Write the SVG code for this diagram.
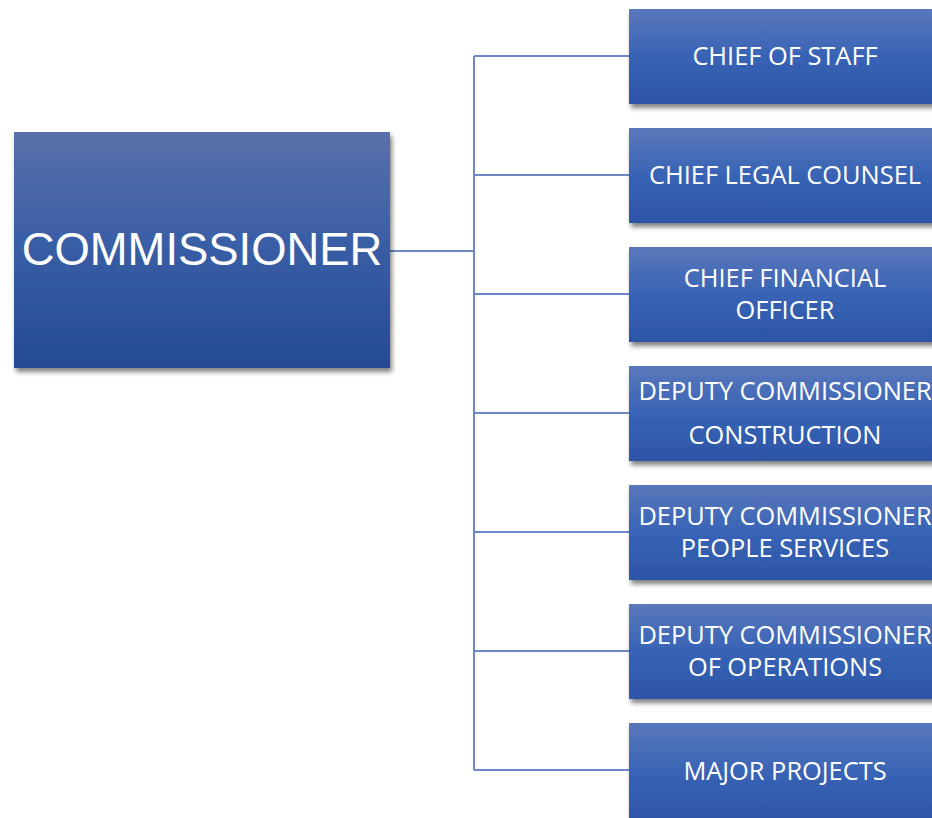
<svg xmlns="http://www.w3.org/2000/svg" width="932" height="818" viewBox="0 0 932 818">
<defs>
<linearGradient id="gMain" x1="0" y1="0" x2="0" y2="1">
<stop offset="0" stop-color="#5a70aa"/>
<stop offset="0.45" stop-color="#3a5fa6"/>
<stop offset="1" stop-color="#254b93"/>
</linearGradient>
<linearGradient id="gSub" x1="0" y1="0" x2="0" y2="1">
<stop offset="0" stop-color="#5a78bb"/>
<stop offset="0.5" stop-color="#3863b5"/>
<stop offset="1" stop-color="#2c55a6"/>
</linearGradient>
<filter id="sh" x="-10%" y="-10%" width="130%" height="130%">
<feGaussianBlur in="SourceAlpha" stdDeviation="2.5"/>
<feOffset dx="2" dy="4" result="o"/>
<feComponentTransfer><feFuncA type="linear" slope="0.5"/></feComponentTransfer>
<feMerge><feMergeNode/><feMergeNode in="SourceGraphic"/></feMerge>
</filter>
</defs>
<style>
.sub{fill:url(#gSub);filter:url(#sh)}
.t{fill:#ffffff;font-family:"Open Sans","Noto Sans",sans-serif;font-size:25.4px;text-anchor:middle}
.c{stroke:#6f87c7;stroke-width:2;fill:none}
</style>
<g id="connectors">
<path class="c" d="M390 251H474M474 56V770M474 56H629M474 175H629M474 294H629M474 413H629M474 532H629M474 651H629M474 770H629"/>
</g>
<g id="commissioner">
<rect x="14" y="132" width="376" height="236" fill="url(#gMain)" filter="url(#sh)"/>
<text x="202" y="265" fill="#fff" font-family="Liberation Sans, Arial, sans-serif" font-size="45.4" text-anchor="middle">COMMISSIONER</text>
</g>
<g id="chief-of-staff">
<rect class="sub" x="629" y="9" width="315" height="95"/>
<text class="t" x="785" y="65">CHIEF OF STAFF</text>
</g>
<g id="chief-legal-counsel">
<rect class="sub" x="629" y="128" width="315" height="95"/>
<text class="t" x="785" y="184">CHIEF LEGAL COUNSEL</text>
</g>
<g id="chief-financial-officer">
<rect class="sub" x="629" y="247" width="315" height="95"/>
<text class="t" x="785" y="287">CHIEF FINANCIAL</text>
<text class="t" x="785" y="319">OFFICER</text>
</g>
<g id="dc-construction">
<rect class="sub" x="629" y="366" width="315" height="95"/>
<text class="t" x="785" y="400">DEPUTY COMMISSIONER</text>
<text class="t" x="785" y="444">CONSTRUCTION</text>
</g>
<g id="dc-people-services">
<rect class="sub" x="629" y="485" width="315" height="95"/>
<text class="t" x="785" y="525">DEPUTY COMMISSIONER</text>
<text class="t" x="785" y="557">PEOPLE SERVICES</text>
</g>
<g id="dc-operations">
<rect class="sub" x="629" y="604" width="315" height="95"/>
<text class="t" x="785" y="644">DEPUTY COMMISSIONER</text>
<text class="t" x="785" y="676">OF OPERATIONS</text>
</g>
<g id="major-projects">
<rect class="sub" x="629" y="723" width="315" height="100"/>
<text class="t" x="785" y="780">MAJOR PROJECTS</text>
</g>
</svg>
